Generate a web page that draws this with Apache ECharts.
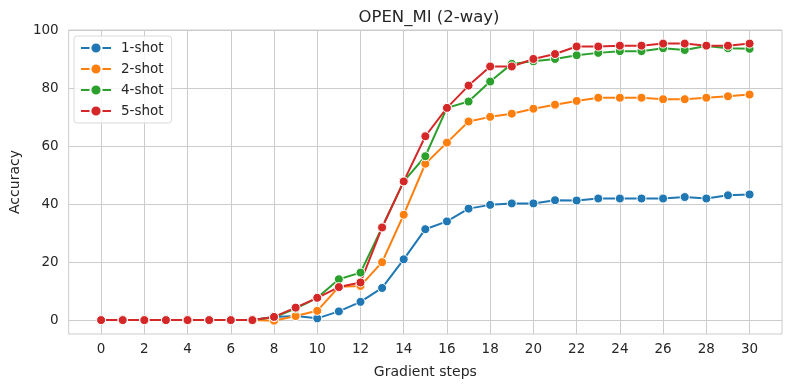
<!DOCTYPE html>
<html>
<head>
<meta charset="utf-8">
<script src="https://cdn.jsdelivr.net/npm/echarts@6/dist/echarts.min.js"></script>
<style>
  html, body { margin: 0; padding: 0; background: #fff; }
  #chart { width: 791px; height: 385px; }
</style>
</head>
<body>
<div id="chart"></div>
<script>
// 数据
var steps = [0, 1, 2, 3, 4, 5, 6, 7, 8, 9, 10, 11, 12, 13, 14, 15, 16, 17, 18, 19, 20, 21, 22, 23, 24, 25, 26, 27, 28, 29, 30];
var shot1 = [0, 0, 0, 0, 0, 0, 0, 0, 1.1, 1.4, 0.6, 3.0, 6.3, 11.1, 21.0, 31.4, 34.1, 38.5, 39.8, 40.3, 40.3, 41.4, 41.3, 42.0, 42.0, 42.0, 42.0, 42.5, 42.0, 43.1, 43.4];
var shot2 = [0, 0, 0, 0, 0, 0, 0, 0, -0.2, 1.4, 3.2, 11.5, 11.8, 20.0, 36.4, 54.0, 61.3, 68.6, 70.2, 71.3, 73.0, 74.4, 75.7, 76.8, 76.8, 76.8, 76.3, 76.3, 76.8, 77.3, 77.9];
var shot4 = [0, 0, 0, 0, 0, 0, 0, 0, 1.0, 4.0, 7.7, 14.1, 16.4, 32.0, 47.9, 56.6, 73.3, 75.5, 82.4, 88.5, 89.4, 90.2, 91.5, 92.3, 92.9, 92.9, 93.9, 93.3, 94.7, 93.9, 93.7];
var shot5 = [0, 0, 0, 0, 0, 0, 0, 0, 1.1, 4.3, 7.7, 11.4, 13.0, 32.0, 47.9, 63.5, 73.3, 81.0, 87.6, 87.6, 90.2, 91.9, 94.5, 94.5, 94.8, 94.8, 95.5, 95.5, 94.8, 94.8, 95.5];
var xTicks = [0, 2, 4, 6, 8, 10, 12, 14, 16, 18, 20, 22, 24, 26, 28, 30];
var yTicks = [0, 20, 40, 60, 80, 100];
var seriesNames = ['1-shot', '2-shot', '4-shot', '5-shot'];
var seriesData = [shot1, shot2, shot4, shot5];
var colors = ['#1f77b4', '#ff7f0e', '#2ca02c', '#d62728'];

var chart = echarts.init(document.getElementById('chart'));
var textColor = '#262626';
var font = 'DejaVu Sans';

var option = {
    animation: false,
    color: colors,
    title: {
        text: 'OPEN_MI (2-way)',
        left: 424,
        top: 4,
        textAlign: 'center',
        textStyle: { fontFamily: font, fontSize: 16.5, fontWeight: 'normal', color: textColor }
    },
    legend: {
        orient: 'vertical',
        left: 74,
        top: 36,
        padding: [5, 8, 5, 6],
        itemGap: 7,
        itemWidth: 30,
        itemHeight: 14,
        backgroundColor: 'rgba(255,255,255,0.8)',
        borderColor: '#d9d9d9',
        borderWidth: 1,
        borderRadius: 3,
        textStyle: { fontFamily: font, fontSize: 13.5, color: textColor, padding: [0, 0, 0, 5] },
        data: seriesNames
    },
    grid: {
        left: 67,
        right: 9,
        top: 30,
        bottom: 51,
        show: true,
        borderColor: '#cccccc',
        borderWidth: 1
    },
    xAxis: {
        type: 'value',
        min: -1.5,
        max: 31.5,
        name: 'Gradient steps',
        nameLocation: 'middle',
        nameGap: 31,
        nameTextStyle: { fontFamily: font, fontSize: 14, color: textColor },
        axisLine: { show: false },
        axisTick: { show: false, customValues: xTicks },
        axisLabel: { customValues: xTicks, margin: 8, fontFamily: font, fontSize: 13.5, color: textColor },
        splitLine: { show: true, lineStyle: { color: '#cccccc', width: 1 } }
    },
    yAxis: {
        type: 'value',
        min: -4.8,
        max: 100.2,
        name: 'Accuracy',
        nameLocation: 'middle',
        nameGap: 42,
        nameTextStyle: { fontFamily: font, fontSize: 14, color: textColor },
        axisLine: { show: false },
        axisTick: { show: false, customValues: yTicks },
        axisLabel: { customValues: yTicks, margin: 10, fontFamily: font, fontSize: 13.5, color: textColor },
        splitLine: { show: true, lineStyle: { color: '#cccccc', width: 1 } }
    },
    series: seriesNames.map(function (name, i) {
        return {
            name: name,
            type: 'line',
            data: steps.map(function (s, j) { return [s, seriesData[i][j]]; }),
            symbol: 'circle',
            symbolSize: 9,
            showAllSymbol: true,
            lineStyle: { width: 2 },
            itemStyle: { color: colors[i], borderColor: '#ffffff', borderWidth: 1 },
            emphasis: { disabled: true }
        };
    })
};

chart.setOption(option);
</script>
</body>
</html>
